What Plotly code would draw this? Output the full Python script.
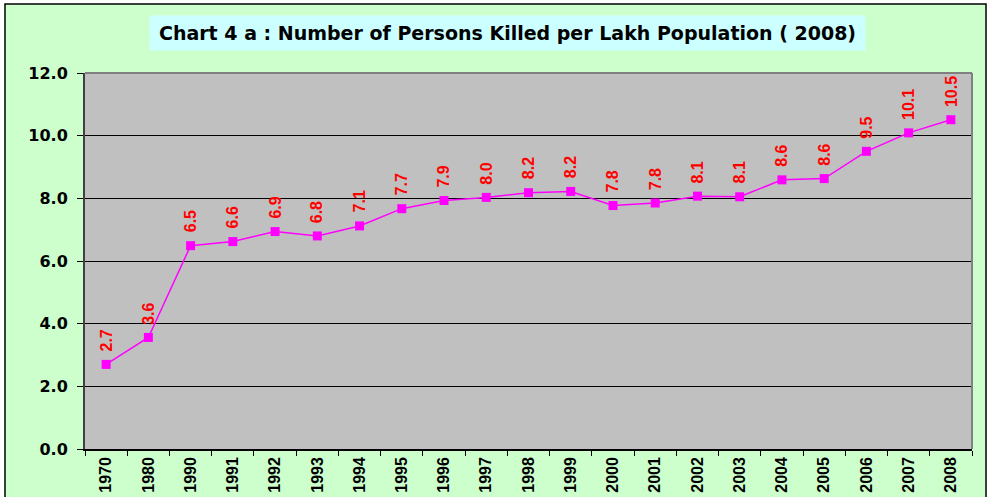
import plotly.graph_objects as go

years = ["1970", "1980", "1990", "1991", "1992", "1993", "1994", "1995", "1996", "1997",
         "1998", "1999", "2000", "2001", "2002", "2003", "2004", "2005", "2006", "2007", "2008"]
killed_per_lakh = [2.70, 3.56, 6.49, 6.62, 6.94, 6.80, 7.12, 7.67, 7.93, 8.03,
                   8.18, 8.22, 7.77, 7.85, 8.07, 8.05, 8.59, 8.63, 9.50, 10.09, 10.51]
y_ticks = [0, 2, 4, 6, 8, 10, 12]
title_text = "Chart 4 a : Number of Persons Killed per Lakh Population ( 2008)"

fig = go.Figure()
fig.add_trace(go.Scatter(
    x=years, y=killed_per_lakh, mode="lines+markers",
    line=dict(color="#FF00FF", width=1.5),
    marker=dict(symbol="square", size=9, color="#FF00FF"),
    showlegend=False, hoverinfo="x+y",
))

annotations = []
for i, v in enumerate(killed_per_lakh):
    annotations.append(dict(
        x=i, y=v, xref="x", yref="y", text="<b>" + f"{v:.1f}" + "</b>", showarrow=False,
        textangle=-90, xanchor="center", yanchor="bottom", yshift=11,
        font=dict(family="Liberation Sans, Arial, sans-serif", size=16, color="#FF0000"),
    ))

annotations.append(dict(
    x=0.4763, y=1.1064, xref="paper", yref="paper", text="<b>" + title_text + "</b>",
    showarrow=False, xanchor="center", yanchor="middle",
    width=713, height=32, bgcolor="#CCFFFF",
    font=dict(family="DejaVu Sans, sans-serif", size=19, color="#000000"),
))

shapes = [
    # outer chart area
    dict(type="rect", xref="paper", yref="paper", x0=-0.0902, x1=1.0158, y0=-0.3, y1=1.1835,
         fillcolor="#CCFFCC", line=dict(color="#000000", width=1.5), layer="below"),
    # plot area background
    dict(type="rect", xref="paper", yref="paper", x0=0, x1=1, y0=0, y1=1,
         fillcolor="#C0C0C0", line=dict(width=0), layer="below"),
    # top and right plot-area border
    dict(type="line", xref="paper", yref="paper", x0=0, x1=1, y0=1, y1=1,
         line=dict(color="#808080", width=2)),
    dict(type="line", xref="paper", yref="paper", x0=1, x1=1, y0=0, y1=1,
         line=dict(color="#808080", width=2)),
]

fig.update_layout(
    width=992, height=497,
    margin=dict(l=85, r=20, t=73, b=48),
    paper_bgcolor="#FFFFFF",
    plot_bgcolor="rgba(0,0,0,0)",
    annotations=annotations,
    shapes=shapes,
    font=dict(family="Liberation Sans, Arial, sans-serif", color="#000000"),
)
fig.update_xaxes(
    type="category", tickson="boundaries", ticks="outside", ticklen=5, tickcolor="#000000",
    tickangle=-90, showgrid=False, showline=True, linecolor="#000000", linewidth=1.5,
    tickfont=dict(family="Liberation Sans, Arial, sans-serif", size=16, color="#000000", weight="bold"),
    range=[-0.5, len(years) - 0.5], automargin=False,
)
fig.update_yaxes(
    range=[0, 12], tickvals=y_ticks, tickformat=".1f", ticks="outside", ticklen=6,
    tickcolor="#000000", showgrid=True, gridcolor="#000000", gridwidth=1,
    showline=True, linecolor="#404040", linewidth=2, zeroline=False,
    ticklabelstandoff=6, automargin=False,
    tickfont=dict(family="DejaVu Sans, sans-serif", size=16, color="#000000", weight="bold"),
)

fig.write_html("out.html", config={"displayModeBar": False},
               post_script="document.body.style.margin='0';")
